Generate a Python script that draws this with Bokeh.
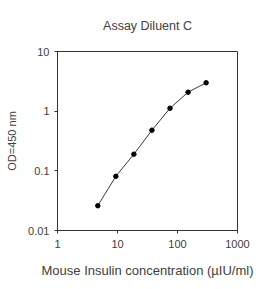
from bokeh.plotting import figure
from bokeh.embed import file_html
from bokeh.resources import INLINE
from bokeh.models import FixedTicker, CustomJSTickFormatter

# Data
concentration = [4.69, 9.38, 18.75, 37.5, 75, 150, 300]
od450 = [0.026, 0.081, 0.19, 0.48, 1.12, 2.08, 2.99]

x_ticks = [1, 10, 100, 1000]
x_tick_labels = ["1", "10", "100", "1000"]
y_ticks = [0.01, 0.1, 1, 10]
y_tick_labels = ["0.01", "0.1", "1", "10"]

TEXT = "#404040"
FONT = "Liberation Sans"

p = figure(width=280, height=289, x_axis_type="log", y_axis_type="log",
           x_range=(1, 1000), y_range=(0.01, 10),
           output_backend="svg", toolbar_location=None,
           title="Assay Diluent C",
           min_border_left=57, min_border_right=43,
           min_border_top=51, min_border_bottom=59)

p.title.align = "center"
p.title.vertical_align = "top"
p.title.text_font = FONT
p.title.text_font_size = "12.5px"
p.title.text_font_style = "normal"
p.title.text_color = TEXT
p.title.standoff = 34

p.line(concentration, od450, line_color="#222222", line_width=0.9)
p.scatter(concentration, od450, size=4.5, fill_color="black", line_color="black")

p.xgrid.visible = False
p.ygrid.visible = False
p.outline_line_color = "#333333"
p.outline_line_width = 1
p.background_fill_color = "white"
p.border_fill_color = "white"

p.xaxis.ticker = FixedTicker(ticks=x_ticks, minor_ticks=[])
p.yaxis.ticker = FixedTicker(ticks=y_ticks, minor_ticks=[])
p.xaxis.formatter = CustomJSTickFormatter(args=dict(t=x_ticks, l=x_tick_labels),
                                          code="return l[t.indexOf(tick)] ?? String(tick);")
p.yaxis.formatter = CustomJSTickFormatter(args=dict(t=y_ticks, l=y_tick_labels),
                                          code="return l[t.indexOf(tick)] ?? String(tick);")

for ax in (p.xaxis, p.yaxis):
    ax.axis_line_color = "#333333"
    ax.major_tick_line_color = "#333333"
    ax.major_tick_out = 3
    ax.major_tick_in = 0
    ax.minor_tick_out = 0
    ax.minor_tick_in = 0
    ax.major_label_text_font = FONT
    ax.major_label_text_font_size = "11px"
    ax.major_label_text_color = TEXT
    ax.axis_label_text_font = FONT
    ax.axis_label_text_font_style = "normal"
    ax.axis_label_text_color = TEXT

p.xaxis.axis_label_text_font_size = "13px"
p.yaxis.axis_label_text_font_size = "11px"
p.xaxis.axis_label = "Mouse Insulin concentration (µIU/ml)"
p.yaxis.axis_label = "OD=450 nm"
p.xaxis.major_label_standoff = 6
p.yaxis.major_label_standoff = 5
p.xaxis.axis_label_standoff = 12
p.yaxis.axis_label_standoff = 7

open("out.html", "w").write(file_html(p, INLINE))
